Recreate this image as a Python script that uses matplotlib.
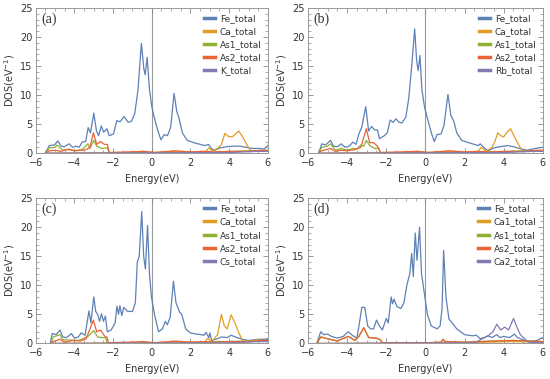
import numpy as np
import matplotlib
matplotlib.use("Agg")
import matplotlib.pyplot as plt
from matplotlib.ticker import MultipleLocator

# colours (Mathematica default palette)
C_FE = "#5e81b5"
C_CA = "#e19c24"
C_AS1 = "#8fb032"
C_AS2 = "#eb6235"
C_X = "#8778b3"

# ---------------- panel (a) ----------------
a_fe_x = [-5.5, -5.3, -5.03, -4.86, -4.69, -4.53, -4.27, -4.1, -3.93, -3.76, -3.6, -3.42, -3.29, -3.17, -3.0,
          -2.86, -2.75, -2.61, -2.49, -2.32, -2.2, -1.98, -1.81, -1.64, -1.44, -1.22, -1.05, -0.88, -0.71,
          -0.54, -0.41, -0.34, -0.24, -0.12, 0.0, 0.1, 0.3, 0.47, 0.64, 0.81, 0.98, 1.15, 1.29, 1.41, 1.58,
          1.83, 2.17, 2.51, 2.76, 2.93, 3.1, 3.27, 3.53, 3.86, 4.2, 4.54, 4.88, 5.22, 5.56, 5.81, 6.0]
a_fe_y = [0, 1.3, 1.4, 2.1, 1.2, 1.1, 1.6, 1.0, 1.2, 1.0, 1.9, 2.0, 4.4, 3.5, 6.9,
          3.8, 3.0, 4.7, 3.6, 4.2, 3.0, 3.3, 5.6, 5.4, 6.3, 5.3, 5.5, 6.8, 11.0,
          18.9, 14.5, 13.5, 16.5, 11.0, 8.0, 6.5, 4.0, 2.3, 3.2, 3.0, 4.5, 10.3, 7.2, 6.0, 3.5,
          2.2, 1.8, 1.5, 1.3, 1.5, 0.7, 0.5, 0.9, 1.1, 1.2, 1.2, 1.0, 0.8, 0.8, 0.7, 1.3]
a_ca_x = [-5.5, -1.0, -0.5, 0.0, 1.1, 2.5, 2.8, 2.95, 3.15, 3.4, 3.6, 3.78, 3.95, 4.15, 4.3, 4.49, 4.7, 4.9,
          5.1, 5.3, 5.6, 6.0]
a_ca_y = [0, 0.1, 0.3, 0.1, 0.3, 0.2, 0.3, 0.9, 0.4, 0.8, 1.5, 3.4, 2.9, 2.8, 3.2, 3.8, 2.8, 1.5,
          0.5, 0.3, 0.4, 0.4]
a_as1_x = [-5.5, -5.3, -5.0, -4.9, -4.6, -4.3, -4.0, -3.6, -3.3, -3.2, -3.0, -2.85, -2.6, -2.3, -2.2,
           0.0, 2.0, 3.5, 5.0, 6.0]
a_as1_y = [0, 0.9, 1.0, 1.4, 0.5, 0.6, 0.4, 0.6, 1.6, 0.8, 2.2, 1.2, 0.8, 0.9, 0.1,
           0.1, 0.1, 0.2, 0.4, 0.4]
a_as2_x = [-5.5, -5.3, -5.0, -4.7, -4.3, -4.0, -3.6, -3.4, -3.2, -3.02, -2.85, -2.65, -2.45, -2.3, -2.2,
           -0.4, 0.2, 1.2, 2.0, 2.7, 3.2, 4.0, 5.0, 5.7, 6.0]
a_as2_y = [0, 0.4, 0.5, 0.3, 0.7, 0.4, 0.5, 0.6, 1.0, 3.5, 1.5, 2.0, 1.5, 1.5, 0.1,
           0.3, 0.1, 0.4, 0.2, 0.3, 0.2, 0.3, 0.3, 0.5, 0.5]
a_x_x = [-5.5, 0.0, 4.0, 5.5, 6.0]
a_x_y = [0, 0.05, 0.1, 0.3, 0.3]

# ---------------- panel (b) ----------------
b_fe_x = [-5.45, -5.3, -5.1, -4.85, -4.7, -4.5, -4.3, -4.1, -3.9, -3.7, -3.55, -3.4, -3.25, -3.05, -2.9,
          -2.75, -2.6, -2.45, -2.35, -2.1, -1.95, -1.8, -1.65, -1.5, -1.35, -1.2, -1.0, -0.85, -0.7,
          -0.55, -0.45, -0.37, -0.28, -0.18, -0.05, 0.1, 0.3, 0.45, 0.6, 0.8, 0.95, 1.15, 1.3, 1.45,
          1.6, 1.85, 2.2, 2.5, 2.7, 2.8, 3.0, 3.2, 3.5, 3.8, 4.2, 4.5, 4.8, 5.2, 5.6, 6.0]
b_fe_y = [0, 1.6, 1.4, 2.2, 1.2, 1.1, 1.6, 1.0, 1.2, 1.9, 1.5, 3.3, 4.5, 8.0, 3.8,
          4.6, 4.0, 4.0, 2.5, 3.0, 3.5, 5.7, 5.3, 5.9, 5.3, 5.2, 6.2, 9.5, 15.0,
          21.4, 16.0, 14.2, 16.8, 11.0, 8.0, 6.0, 3.5, 2.0, 3.2, 3.3, 4.8, 10.1, 6.5, 5.5,
          3.5, 2.2, 1.8, 1.5, 1.3, 1.6, 0.9, 0.4, 0.9, 1.1, 1.3, 1.1, 0.8, 0.5, 0.8, 1.0]
b_ca_x = [-5.45, -1.0, -0.5, 0.0, 1.1, 2.5, 2.7, 2.85, 3.1, 3.4, 3.55, 3.7, 3.85, 4.0, 4.15, 4.35, 4.55,
          4.8, 5.0, 5.5, 6.0]
b_ca_y = [0, 0.1, 0.3, 0.1, 0.3, 0.2, 0.3, 1.0, 0.3, 1.0, 2.0, 3.5, 3.0, 2.8, 3.5, 4.2, 2.8,
          1.2, 0.3, 0.3, 0.3]
b_as1_x = [-5.45, -5.3, -5.0, -4.85, -4.6, -4.3, -4.0, -3.7, -3.5, -3.3, -3.15, -3.02, -2.85, -2.6, -2.4,
           -2.3, 0.0, 2.0, 3.5, 5.0, 6.0]
b_as1_y = [0, 1.0, 1.2, 1.6, 0.5, 0.8, 0.5, 0.8, 0.7, 1.4, 1.2, 2.2, 1.3, 0.8, 0.9,
           0.1, 0.1, 0.1, 0.2, 0.4, 0.4]
b_as2_x = [-5.45, -5.3, -4.85, -4.6, -4.3, -4.0, -3.6, -3.3, -3.02, -2.85, -2.65, -2.45, -2.3,
           -0.4, 0.2, 1.2, 2.0, 2.7, 3.2, 4.0, 5.0, 5.7, 6.0]
b_as2_y = [0, 0.4, 0.8, 0.3, 0.5, 0.4, 0.6, 1.0, 4.2, 1.8, 1.8, 1.2, 0.1,
           0.3, 0.1, 0.4, 0.2, 0.3, 0.2, 0.3, 0.3, 0.5, 0.5]
b_x_x = [-5.45, 0.0, 4.0, 5.5, 6.0]
b_x_y = [0, 0.05, 0.1, 0.3, 0.3]

# ---------------- panel (c) ----------------
c_fe_x = [-5.25, -5.15, -4.95, -4.75, -4.6, -4.4, -4.15, -4.0, -3.8, -3.65, -3.45, -3.25, -3.15, -3.0, -2.9,
          -2.8, -2.7, -2.6, -2.5, -2.4, -2.3, -2.1, -1.9, -1.8, -1.72, -1.65, -1.55, -1.45, -1.25, -1.0,
          -0.85, -0.75, -0.65, -0.52, -0.42, -0.33, -0.22, -0.12, -0.02, 0.15, 0.35, 0.55, 0.7, 0.8,
          0.95, 1.12, 1.25, 1.45, 1.55, 1.75, 2.0, 2.3, 2.55, 2.7, 2.8, 2.95, 3.0, 3.1, 3.4, 3.6, 3.9,
          4.1, 4.4, 4.7, 5.0, 5.5, 6.0]
c_fe_y = [0, 1.7, 1.5, 2.3, 1.1, 1.0, 1.7, 0.9, 1.1, 1.8, 1.4, 5.6, 3.5, 8.0, 5.5,
          5.0, 3.8, 5.1, 3.8, 4.7, 2.0, 2.3, 3.5, 6.4, 5.0, 6.5, 4.8, 6.2, 5.5, 5.5,
          7.0, 14.0, 15.0, 22.7, 15.0, 12.8, 20.3, 12.0, 8.0, 4.8, 2.0, 2.5, 3.8, 3.2,
          4.5, 10.7, 7.0, 5.3, 5.0, 2.5, 1.8, 1.6, 1.5, 1.4, 1.9, 1.0, 1.8, 0.5, 0.8, 1.1, 1.0,
          1.4, 1.0, 0.7, 0.5, 0.7, 0.7]
c_ca_x = [-5.25, -1.0, -0.5, 0.0, 1.1, 2.5, 2.75, 2.9, 3.1, 3.4, 3.6, 3.75, 3.9, 4.1, 4.3, 4.5, 4.7,
          5.0, 5.5, 6.0]
c_ca_y = [0, 0.1, 0.3, 0.1, 0.3, 0.2, 0.3, 0.9, 0.3, 1.5, 5.0, 3.0, 2.5, 4.9, 3.5, 1.8, 0.4,
          0.4, 0.6, 0.3]
c_as1_x = [-5.2, -5.1, -4.75, -4.6, -4.3, -4.0, -3.7, -3.3, -3.0, -2.8, -2.6, -2.4, -2.3,
           0.0, 2.0, 3.5, 5.0, 6.0]
c_as1_y = [0, 1.1, 1.5, 0.6, 0.6, 0.5, 0.6, 1.2, 2.2, 1.1, 1.0, 1.0, 0.1,
           0.1, 0.1, 0.3, 0.4, 0.4]
c_as2_x = [-5.2, -5.1, -4.75, -4.5, -4.1, -3.7, -3.4, -3.02, -2.85, -2.65, -2.45, -2.3, -2.25,
           -0.4, 0.2, 1.2, 2.0, 2.7, 3.2, 4.0, 5.0, 5.7, 6.0]
c_as2_y = [0, 0.3, 0.7, 0.2, 0.5, 0.4, 0.8, 4.0, 2.0, 2.3, 1.3, 1.0, 0.1,
           0.3, 0.1, 0.4, 0.2, 0.3, 0.2, 0.3, 0.3, 0.5, 0.5]
c_x_x = [-5.2, 0.0, 4.0, 5.5, 6.0]
c_x_y = [0, 0.05, 0.1, 0.3, 0.3]

# ---------------- panel (d) ----------------
d_fe_x = [-5.55, -5.35, -5.2, -5.0, -4.8, -4.5, -4.2, -3.95, -3.7, -3.5, -3.35, -3.25, -3.1, -2.95, -2.8,
          -2.65, -2.5, -2.35, -2.2, -2.0, -1.9, -1.75, -1.68, -1.6, -1.45, -1.25, -1.1, -0.95, -0.8,
          -0.7, -0.62, -0.52, -0.43, -0.3, -0.2, -0.05, 0.1, 0.3, 0.6, 0.75, 0.85, 0.93, 1.05, 1.2,
          1.35, 1.6, 2.0, 2.4, 2.6, 2.8, 3.0, 3.2, 3.4, 3.65, 3.8, 4.0, 4.3, 4.55, 4.7, 5.0, 5.3,
          5.7, 6.0]
d_fe_y = [0, 2.0, 1.5, 1.6, 1.2, 0.9, 1.2, 2.0, 1.3, 0.9, 4.0, 6.2, 6.2, 3.0, 2.5,
          2.5, 4.0, 3.0, 2.3, 4.3, 3.5, 8.0, 6.8, 7.6, 6.3, 6.0, 7.0, 10.0, 12.0,
          15.5, 11.5, 19.0, 14.3, 20.0, 12.0, 8.5, 5.0, 3.0, 2.5, 3.0, 6.0, 16.0, 8.0, 4.2,
          3.6, 2.5, 1.5, 1.3, 1.4, 0.8, 1.0, 1.3, 1.0, 1.5, 1.0, 1.2, 1.0, 1.6, 1.0, 0.6, 0.3,
          0.5, 1.0]
d_ca1_x = [-5.55, 0.0, 3.0, 4.5, 6.0]
d_ca1_y = [0, 0.05, 0.2, 0.3, 0.2]
d_as_x = [-5.55, -5.35, -5.0, -4.5, -3.95, -3.6, -3.4, -3.15, -2.9, -2.5, -2.3, -2.2,
          0.0, 0.8, 0.9, 1.0, 2.0, 3.5, 4.5, 6.0]
d_as_y = [0, 1.1, 0.8, 0.4, 1.2, 0.5, 1.2, 2.7, 1.0, 0.9, 0.6, 0.1,
          0.1, 0.2, 0.7, 0.3, 0.2, 0.4, 0.5, 0.3]
d_ca2_x = [-5.55, 2.5, 2.8, 3.2, 3.45, 3.65, 3.85, 4.05, 4.25, 4.5, 4.65, 4.85, 5.1, 5.3, 6.0]
d_ca2_y = [0, 0.1, 0.6, 1.3, 2.0, 3.3, 2.3, 2.8, 2.3, 4.3, 3.0, 1.5, 0.7, 0.2, 0.1]

panels = [
    ("(a)", [0.065, 0.596, 0.422, 0.383],
     [(a_fe_x, a_fe_y, "Fe_total", C_FE), (a_ca_x, a_ca_y, "Ca_total", C_CA),
      (a_as1_x, a_as1_y, "As1_total", C_AS1), (a_as2_x, a_as2_y, "As2_total", C_AS2),
      (a_x_x, a_x_y, "K_total", C_X)]),
    ("(b)", [0.560, 0.596, 0.427, 0.383],
     [(b_fe_x, b_fe_y, "Fe_total", C_FE), (b_ca_x, b_ca_y, "Ca_total", C_CA),
      (b_as1_x, b_as1_y, "As1_total", C_AS1), (b_as2_x, b_as2_y, "As2_total", C_AS2),
      (b_x_x, b_x_y, "Rb_total", C_X)]),
    ("(c)", [0.065, 0.094, 0.422, 0.383],
     [(c_fe_x, c_fe_y, "Fe_total", C_FE), (c_ca_x, c_ca_y, "Ca_total", C_CA),
      (c_as1_x, c_as1_y, "As1_total", C_AS1), (c_as2_x, c_as2_y, "As2_total", C_AS2),
      (c_x_x, c_x_y, "Cs_total", C_X)]),
    ("(d)", [0.560, 0.094, 0.427, 0.383],
     [(d_fe_x, d_fe_y, "Fe_total", C_FE), (d_ca1_x, d_ca1_y, "Ca1_total", C_CA),
      (d_as_x, d_as_y, "As1_total", C_AS1), (d_as_x, d_as_y, "As2_total", C_AS2),
      (d_ca2_x, d_ca2_y, "Ca2_total", C_X)]),
]

plt.rcParams['font.family'] = ['DejaVu Sans']
fig = plt.figure(figsize=(5.5, 3.79), dpi=100)

for tag, rect, series in panels:
    ax = fig.add_axes(rect)
    for x, y, lab, col in series:
        ax.plot(x, y, color=col, lw=0.9, label=lab)
    ax.axvline(0, color="#999999", lw=0.8, zorder=0)
    ax.set_xlim(-6, 6)
    ax.set_ylim(0, 25)
    ax.xaxis.set_major_locator(MultipleLocator(2))
    ax.xaxis.set_minor_locator(MultipleLocator(0.5))
    ax.yaxis.set_major_locator(MultipleLocator(5))
    ax.yaxis.set_minor_locator(MultipleLocator(1))
    ax.tick_params(which="both", direction="in", top=True, right=True, colors="#888888",
                   labelcolor="#333333", labelsize=7)
    ax.tick_params(axis="x", pad=3.5)
    ax.tick_params(axis="y", pad=2.5)
    ax.tick_params(which="major", length=3.5, width=0.6)
    ax.tick_params(which="minor", length=2, width=0.5)
    for s in ax.spines.values():
        s.set_color("#999999")
        s.set_linewidth(0.7)
    ax.set_xlabel("Energy(eV)", fontsize=7, color="#333333", labelpad=4)
    ax.set_ylabel("DOS(eV$^{-1}$)", fontsize=7, color="#333333", labelpad=2)
    ax.text(0.025, 0.97, tag, transform=ax.transAxes, ha="left", va="top",
            family="Liberation Serif", fontsize=10, color="#333333")
    leg = ax.legend(loc="upper right", fontsize=6.5, frameon=False, handlelength=1.2,
                    handletextpad=0.5, labelspacing=0.45, borderaxespad=0.3)
    for h in leg.get_lines():
        h.set_linewidth(2.5)
    for t in leg.get_texts():
        t.set_color("#333333")

fig.savefig("out.png", dpi=100)
